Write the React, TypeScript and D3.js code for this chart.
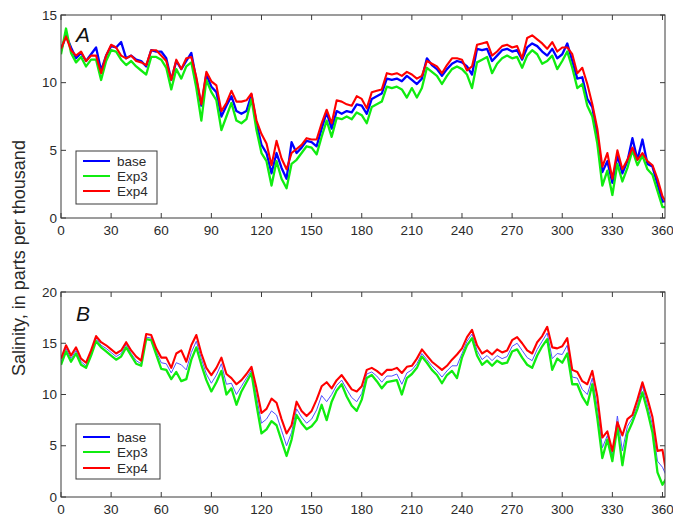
import React from "react";
import * as d3 from "d3";

// day of year, every 3 days
const days: number[] = d3.range(0, 364, 3);

const xTicks = [0, 30, 60, 90, 120, 150, 180, 210, 240, 270, 300, 330, 360];
const yTicksA = [0, 5, 10, 15];
const yTicksB = [0, 5, 10, 15, 20];
const seriesNames = ["base", "Exp3", "Exp4"];

// Panel A
const baseA = [12.4,13.5,12.6,11.8,12.2,11.6,12.1,12.6,10.9,12.0,12.7,12.6,13.0,11.8,12.0,11.7,11.6,11.2,12.4,12.3,12.3,11.8,10.2,11.6,11.0,11.6,12.2,10.2,8.3,10.6,9.7,9.3,7.5,8.3,9.0,7.9,7.7,7.9,9.1,7.0,5.4,4.8,3.3,4.8,3.7,2.9,5.6,4.8,5.2,5.7,5.6,5.3,6.6,7.8,6.6,7.9,7.7,7.9,7.8,8.4,8.3,7.7,8.8,9.0,9.2,10.3,10.2,10.3,10.1,10.5,10.2,9.9,10.3,11.8,11.3,11.0,10.5,11.0,11.4,11.6,11.5,11.2,10.6,12.5,12.4,12.5,11.6,12.0,12.4,12.5,12.3,12.4,11.7,12.6,12.9,12.7,12.3,12.0,12.5,11.8,12.1,12.9,11.6,10.3,10.4,8.8,8.2,6.0,3.4,4.2,2.6,4.6,3.3,4.2,5.9,4.3,5.8,4.0,3.8,2.5,1.2,1.3];
const exp3A = [12.1,14.0,12.2,11.5,11.9,11.2,11.7,11.7,10.2,11.6,12.4,12.3,11.7,11.3,11.6,11.2,10.9,10.6,11.9,11.9,11.7,11.1,9.5,11.0,10.3,11.2,11.5,9.6,7.2,10.2,9.3,8.7,6.5,7.5,8.5,7.2,7.0,7.3,8.8,6.5,4.8,4.2,2.4,4.2,2.9,2.2,4.0,4.3,4.8,5.3,5.2,4.7,6.0,7.2,6.0,7.4,7.3,7.5,7.3,7.8,7.6,7.0,8.2,8.4,8.6,9.7,9.6,9.7,9.5,8.9,9.6,8.9,9.6,11.1,10.8,10.5,9.9,10.5,11.0,11.2,11.0,10.6,9.6,11.5,11.7,11.9,10.7,11.4,11.8,12.0,11.8,11.9,11.1,12.0,12.4,12.1,11.4,11.6,12.0,11.0,11.6,12.3,11.1,9.6,9.9,8.3,7.5,5.5,2.4,3.5,1.7,4.0,2.7,3.7,5.0,3.9,4.6,3.6,3.2,2.0,0.8,0.8];
const exp4A = [12.5,13.4,12.4,12.0,12.3,11.6,12.0,12.0,10.7,12.0,12.8,12.6,12.0,11.8,12.0,11.6,11.5,11.3,12.4,12.4,12.0,11.6,10.2,11.7,11.0,11.8,11.9,10.4,8.4,10.8,10.1,9.8,7.9,8.5,9.4,8.6,8.6,8.7,9.2,7.2,6.2,5.5,3.9,5.7,4.4,3.6,4.8,5.1,5.4,5.9,5.8,5.8,7.0,8.0,7.0,8.7,8.6,8.4,8.3,9.0,8.8,8.1,9.3,9.4,9.5,10.7,10.6,10.7,10.5,10.8,10.6,10.3,10.5,11.6,11.4,11.2,10.7,11.3,11.8,11.8,11.7,10.9,11.2,12.8,12.9,13.0,12.0,12.3,12.7,12.8,12.6,12.7,11.8,13.3,13.5,13.2,12.9,12.5,13.0,12.3,12.6,12.6,12.1,10.7,11.1,9.9,8.4,6.6,3.8,4.8,2.9,5.0,3.6,4.3,5.2,4.3,4.8,4.2,3.9,2.9,1.6,1.0];

// Panel B
const baseB = [13.2,14.5,13.5,14.3,13.2,12.8,14.0,15.5,14.8,14.5,14.1,13.7,14.0,14.9,14.0,13.3,13.0,15.6,15.5,14.2,13.1,13.0,12.1,13.1,12.9,12.4,14.1,15.2,13.5,12.0,11.1,11.9,13.0,11.0,11.1,10.0,10.8,11.6,12.4,9.8,7.2,7.6,8.4,8.0,6.5,5.0,6.3,8.6,7.8,7.2,7.6,8.5,9.9,9.3,10.0,10.9,11.4,10.5,9.7,9.3,10.1,12.0,12.2,11.8,11.2,11.8,11.8,12.0,11.0,12.1,12.4,13.0,14.0,13.4,12.8,12.3,11.7,12.3,12.8,12.8,14.0,15.2,15.9,14.3,13.4,13.8,13.3,13.8,13.5,13.7,14.7,15.0,14.3,13.6,13.3,14.4,15.2,16.0,13.5,14.0,13.9,14.8,11.7,11.6,10.5,10.0,11.6,8.7,4.8,6.0,4.0,7.9,4.5,6.9,7.7,9.0,10.8,9.0,7.0,3.5,2.9,1.8];
const exp3B = [12.9,14.2,13.2,14.0,12.9,12.6,13.8,15.2,14.6,14.2,13.8,13.4,13.7,14.6,13.8,13.0,12.8,15.4,15.3,13.9,12.5,12.4,11.5,12.2,11.3,11.5,13.4,14.6,12.9,11.4,10.3,11.2,12.3,10.0,10.6,9.0,10.3,11.2,12.1,9.0,6.2,6.6,7.4,7.0,5.5,4.0,5.6,8.0,7.2,6.6,6.9,7.5,9.0,7.5,9.3,10.4,11.0,9.8,8.9,8.4,9.5,11.6,11.9,11.3,10.6,11.2,11.3,11.4,10.0,11.6,12.0,12.6,13.7,13.1,12.4,11.9,11.1,11.9,12.3,11.6,13.6,14.8,15.5,13.8,12.9,13.3,12.8,13.3,13.0,13.1,14.2,14.4,13.6,12.9,12.6,13.8,14.7,15.4,12.4,13.5,13.1,14.0,11.0,11.0,9.8,9.0,11.0,7.7,3.8,5.6,3.5,6.9,3.1,6.2,7.3,8.6,10.2,8.4,6.3,2.4,1.2,2.0];
const exp4B = [13.5,14.8,13.8,14.6,13.5,13.1,14.3,15.7,15.1,14.8,14.4,14.0,14.3,15.1,14.3,13.7,13.3,15.9,15.8,14.5,13.6,13.6,12.6,14.0,14.3,13.2,14.8,15.8,14.0,12.6,11.9,12.6,13.6,12.0,11.6,11.0,11.4,12.0,12.7,10.6,8.2,8.6,9.6,9.2,7.6,6.2,7.0,9.3,8.4,7.9,8.4,9.5,10.8,11.2,10.6,11.4,11.9,11.2,10.5,10.3,10.8,12.4,12.6,12.3,11.9,12.4,12.4,12.6,12.1,12.7,12.8,13.5,14.4,13.8,13.2,12.8,12.4,12.8,13.4,13.9,14.5,15.6,16.3,14.8,14.0,14.3,13.9,14.4,14.1,14.3,15.3,15.6,15.0,14.3,14.0,15.1,15.7,16.6,14.6,14.5,14.7,15.5,12.4,12.2,11.3,11.0,12.3,9.8,5.8,6.4,4.5,7.3,6.0,7.6,8.0,9.5,11.2,9.6,7.8,4.5,4.6,1.6];

const W = 673;
const H = 521;
const X0 = 61;
const X1 = 665;
const AXIS = "#3a3a3a";
const TEXT = "#2a2a2a";
const FONT = "Arial, 'Liberation Sans', Helvetica, sans-serif";
const BLUE = "#0000ff";
const GREEN = "#10ec10";
const RED = "#ff0000";

type PanelProps = {
  id: string;
  top: number;
  bottom: number;
  yMax: number;
  yTicks: number[];
  base: number[];
  exp3: number[];
  exp4: number[];
  label: string;
  legend: { x: number; y: number; w: number; h: number; rows: number[] };
  thinBase: boolean;
  labelY: number;
};

function Panel(p: PanelProps) {
  const x = d3.scaleLinear().domain([0, 361.5]).range([X0, X1]);
  const y = d3.scaleLinear().domain([0, p.yMax]).range([p.bottom, p.top]);
  const mk = (vals: number[]) =>
    d3
      .line<number>()
      .x((_, i) => x(days[i]))
      .y((v) => y(v))(vals) as string;
  const clip = `clip-${p.id}`;
  const tl = 5;
  const colors = [BLUE, GREEN, RED];
  return (
    <g>
      <defs>
        <clipPath id={clip}>
          <rect x={X0} y={p.top} width={X1 - X0} height={p.bottom - p.top} />
        </clipPath>
      </defs>
      <rect x={X0} y={p.top} width={X1 - X0} height={p.bottom - p.top} fill="#fff" />
      <g clipPath={`url(#${clip})`} fill="none" strokeLinejoin="round">
        <path d={mk(p.base)} stroke={p.thinBase ? "#5050ff" : BLUE} strokeWidth={p.thinBase ? 1 : 2.3} />
        <path d={mk(p.exp3)} stroke={GREEN} strokeWidth={2.3} />
        <path d={mk(p.exp4)} stroke={RED} strokeWidth={2.1} />
      </g>
      <rect x={X0} y={p.top} width={X1 - X0} height={p.bottom - p.top} fill="none" stroke={AXIS} strokeWidth={1} />
      {xTicks.map((t) => (
        <g key={"x" + t}>
          <line x1={x(t)} x2={x(t)} y1={p.bottom} y2={p.bottom - tl} stroke={AXIS} />
          <line x1={x(t)} x2={x(t)} y1={p.top} y2={p.top + tl} stroke={AXIS} />
          <text x={x(t)} y={p.bottom + 17} textAnchor="middle" fontSize={13.5} fill={TEXT} fontFamily={FONT}>
            {t}
          </text>
        </g>
      ))}
      {p.yTicks.map((t) => (
        <g key={"y" + t}>
          <line x1={X0} x2={X0 + tl} y1={y(t)} y2={y(t)} stroke={AXIS} />
          <line x1={X1} x2={X1 - tl} y1={y(t)} y2={y(t)} stroke={AXIS} />
          <text x={X0 - 4} y={y(t)} dy="0.35em" textAnchor="end" fontSize={13.5} fill={TEXT} fontFamily={FONT}>
            {t}
          </text>
        </g>
      ))}
      <text x={76} y={p.labelY} fontSize={21} fontStyle="italic" fill="#111" fontFamily={FONT}>
        {p.label}
      </text>
      <rect x={p.legend.x} y={p.legend.y} width={p.legend.w} height={p.legend.h} fill="#fff" stroke={AXIS} strokeWidth={1} />
      {seriesNames.map((n, i) => (
        <g key={n}>
          <line
            x1={p.legend.x + 7}
            x2={p.legend.x + 34}
            y1={p.legend.rows[i]}
            y2={p.legend.rows[i]}
            stroke={colors[i]}
            strokeWidth={2}
          />
          <text x={p.legend.x + 41} y={p.legend.rows[i]} dy="0.36em" fontSize={13.5} fill={TEXT} fontFamily={FONT}>
            {n}
          </text>
        </g>
      ))}
    </g>
  );
}

export default function App() {
  return (
    <svg
      width={W}
      height={H}
      viewBox={`0 0 ${W} ${H}`}
      style={{ position: "absolute", left: 0, top: 0, background: "#fff", display: "block" }}
    >
      <rect x={0} y={0} width={W} height={H} fill="#fff" />
      <Panel
        id="A"
        top={15}
        bottom={218}
        yMax={15}
        yTicks={yTicksA}
        base={baseA}
        exp3={exp3A}
        exp4={exp4A}
        label="A"
        labelY={42}
        thinBase={false}
        legend={{ x: 76, y: 151, w: 81, h: 53, rows: [161, 176, 191] }}
      />
      <Panel
        id="B"
        top={292}
        bottom={497}
        yMax={20}
        yTicks={yTicksB}
        base={baseB}
        exp3={exp3B}
        exp4={exp4B}
        label="B"
        labelY={321}
        thinBase={true}
        legend={{ x: 76, y: 424, w: 84, h: 55, rows: [437, 452, 468] }}
      />
      <text
        transform="translate(25,258) rotate(-90)"
        textAnchor="middle"
        fontSize={18}
        fill={TEXT}
        fontFamily={FONT}
      >
        Salinity, in parts per thousand
      </text>
    </svg>
  );
}
